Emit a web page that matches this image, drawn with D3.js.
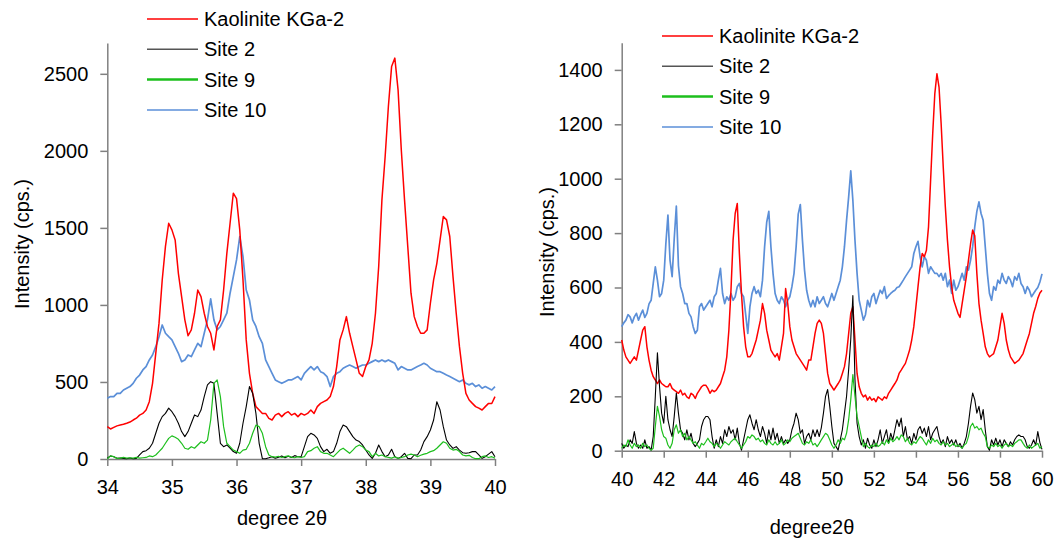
<!DOCTYPE html>
<html>
<head>
<meta charset="utf-8">
<script src="https://cdn.jsdelivr.net/npm/d3@7"></script>
<style>
  body { margin: 0; background: #fff; }
  svg { display: block; font-family: "Liberation Sans", Arial, sans-serif; }
  .axis path, .axis line { stroke: #808080; stroke-width: 1.5; }
  .axis text { font-size: 20px; fill: #000; font-family: "Liberation Sans", Arial, sans-serif; }
  .label { font-size: 20px; fill: #000; }
</style>
</head>
<body>
<svg width="1058" height="542"></svg>
<script>
const seriesNames = ['Kaolinite KGa-2', 'Site 2', 'Site 9', 'Site 10'];

// left panel: 34.00 .. 40.00 degree 2θ, every 0.05
const leftStart = 34;
const leftStep = 0.05;
const leftTicksX = [34, 35, 36, 37, 38, 39, 40];
const leftTicksY = [0, 500, 1000, 1500, 2000, 2500];
const leftKaolinite = [
  210, 195, 205, 215, 220, 225, 232, 240, 253, 265,
  285, 296, 318, 372, 491, 686, 880, 1162, 1380, 1530,
  1487, 1422, 1205, 1054, 903, 800, 838, 946, 1097, 1054,
  946, 860, 816, 708, 860, 903, 1097, 1335, 1530, 1725,
  1690, 1487, 1162, 773, 556, 426, 340, 318, 296, 296,
  264, 253, 285, 296, 275, 296, 307, 285, 296, 275,
  296, 285, 296, 318, 296, 340, 361, 372, 383, 405,
  470, 600, 773, 838, 924, 816, 729, 643, 556, 535,
  600, 643, 751, 946, 1249, 1682, 1963, 2288, 2548, 2602,
  2396, 2006, 1682, 1379, 1076, 924, 860, 816, 816, 838,
  1011, 1162, 1270, 1422, 1574, 1552, 1444, 1184, 946, 729,
  556, 426, 383, 361, 340, 330, 318, 340, 361, 360,
  405
];
const leftSite2 = [
  5, 20, 15, 5, 6, 4, 2, 6, 2, 4,
  26, 48, 54, 70, 102, 167, 232, 275, 296, 330,
  307, 275, 232, 178, 145, 178, 232, 286, 275, 318,
  405, 481, 502, 491, 296, 102, 80, 91, 70, 48,
  37, 102, 232, 340, 470, 426, 296, 102, 2, 2,
  8, 15, 5, 12, 20, 8, 18, 10, 22, 15,
  15, 80, 145, 167, 156, 134, 80, 48, 63, 37,
  48, 102, 178, 221, 210, 178, 145, 123, 113, 91,
  58, 26, 4, 37, 91, 48, 15, 26, 63, 15,
  4, 15, 37, 4, 2, 26, 26, 58, 113, 145,
  188, 253, 372, 318, 210, 123, 91, 69, 80, 58,
  41, 37, 41, 48, 48, 26, 4, 15, 32, 48,
  15
];
const leftSite9 = [
  2, 20, 15, 4, 6, 10, 6, 8, 6, 10,
  6, 8, 10, 20, 15, 26, 48, 70, 102, 134,
  150, 141, 128, 102, 70, 63, 80, 70, 91, 112,
  102, 123, 253, 491, 513, 405, 210, 102, 80, 58,
  48, 37, 58, 63, 102, 167, 220, 210, 167, 80,
  26, 15, 12, 18, 10, 15, 20, 12, 8, 15,
  10, 15, 48, 54, 70, 80, 48, 37, 37, 26,
  15, 37, 58, 70, 54, 37, 58, 80, 91, 80,
  58, 48, 15, 37, 20, 26, 15, 10, 6, 15,
  4, 10, 15, 26, 32, 26, 15, 24, 32, 37,
  48, 54, 70, 91, 112, 102, 70, 58, 63, 48,
  26, 20, 24, 10, 2, 2, 15, 20, 10, 15,
  6
];
const leftSite10 = [
  394, 405, 405, 426, 426, 448, 459, 470, 491, 524,
  545, 578, 600, 643, 675, 729, 794, 870, 816, 794,
  773, 729, 686, 632, 643, 675, 665, 708, 751, 729,
  816, 903, 1040, 903, 838, 860, 903, 946, 1076, 1184,
  1292, 1444, 1314, 1097, 1032, 903, 860, 794, 751, 643,
  600, 556, 513, 502, 491, 502, 513, 513, 524, 535,
  513, 556, 578, 600, 578, 600, 567, 556, 535, 470,
  535, 556, 567, 589, 600, 610, 600, 589, 600, 610,
  610, 621, 632, 643, 632, 643, 632, 643, 632, 621,
  578, 600, 589, 578, 578, 589, 600, 610, 621, 610,
  589, 578, 567, 567, 556, 545, 535, 524, 513, 502,
  513, 491, 481, 491, 470, 481, 459, 470, 459, 448,
  470
];

// right panel: 40.0 .. 60.0 degree 2θ, every 0.1
const rightStart = 40;
const rightStep = 0.1;
const rightTicksX = [40, 42, 44, 46, 48, 50, 52, 54, 56, 58, 60];
const rightTicksY = [0, 200, 400, 600, 800, 1000, 1200, 1400];
const rightKaolinite = [
  407, 370, 345, 333, 321, 333, 345, 333, 370, 407,
  443, 456, 382, 333, 296, 272, 260, 247, 260, 247,
  241, 235, 235, 247, 229, 223, 217, 211, 223, 205,
  211, 198, 192, 211, 205, 192, 211, 223, 235, 241,
  241, 229, 211, 223, 217, 223, 235, 247, 272, 296,
  345, 443, 590, 774, 872, 909, 725, 578, 456, 382,
  345, 345, 357, 382, 407, 443, 480, 541, 505, 443,
  407, 370, 357, 345, 357, 333, 382, 431, 596, 541,
  456, 407, 382, 357, 345, 333, 321, 309, 296, 333,
  333, 382, 431, 468, 480, 468, 431, 357, 284, 247,
  235, 223, 235, 247, 260, 284, 309, 357, 431, 505,
  529, 407, 284, 235, 211, 198, 205, 186, 198, 186,
  192, 180, 198, 192, 186, 198, 192, 211, 223, 235,
  247, 260, 284, 296, 309, 321, 345, 370, 407, 456,
  529, 603, 676, 725, 713, 737, 823, 995, 1166, 1313,
  1386, 1337, 1203, 1044, 897, 774, 676, 603, 553, 529,
  505, 490, 541, 590, 640, 700, 760, 811, 790, 652,
  541, 480, 431, 382, 357, 345, 351, 357, 382, 407,
  456, 505, 468, 407, 370, 345, 333, 321, 327, 333,
  345, 357, 382, 407, 431, 468, 505, 530, 560, 580,
  590
];
const rightSite2 = [
  27, 9, 21, 15, 40, 27, 70, 27, 9, 21,
  9, 40, 9, 15, 2, 52, 200, 360, 237, 138,
  101, 200, 114, 77, 52, 126, 212, 138, 77, 64,
  40, 77, 40, 64, 27, 15, 27, 40, 89, 114,
  126, 126, 114, 52, 9, 40, 15, 52, 27, 77,
  52, 89, 64, 77, 40, 83, 27, 2, 40, 77,
  114, 132, 101, 77, 114, 77, 52, 89, 64, 27,
  77, 40, 83, 40, 64, 27, 52, 27, 40, 27,
  40, 77, 101, 138, 114, 64, 77, 27, 52, 64,
  40, 77, 52, 77, 52, 85, 138, 200, 225, 163,
  89, 27, 15, 2, 40, 77, 138, 200, 299, 410,
  570, 262, 101, 52, 21, 40, 9, 46, 21, 9,
  40, 15, 40, 77, 27, 52, 77, 27, 64, 40,
  77, 114, 89, 120, 52, 89, 40, 52, 27, 64,
  40, 77, 89, 64, 83, 52, 89, 40, 64, 77,
  89, 52, 27, 40, 15, 52, 27, 40, 21, 40,
  15, 27, 9, 27, 52, 101, 163, 212, 188, 138,
  163, 114, 151, 77, 15, 2, 40, 21, 46, 21,
  40, 15, 40, 27, 15, 33, 21, 40, 52, 58,
  52, 52, 40, 15, 9, 21, 40, 20, 70, 30,
  5
];
const rightSite9 = [
  9, 21, 15, 40, 21, 9, 27, 15, 21, 9,
  27, 15, 21, 9, 2, 9, 89, 163, 126, 77,
  52, 46, 21, 9, 27, 77, 95, 64, 77, 52,
  64, 40, 52, 40, 27, 33, 21, 9, 27, 21,
  33, 46, 33, 27, 15, 27, 21, 9, 21, 33,
  27, 21, 33, 40, 46, 33, 21, 9, 21, 33,
  52, 46, 58, 52, 40, 46, 33, 40, 27, 21,
  40, 27, 21, 33, 21, 27, 40, 21, 27, 40,
  33, 46, 52, 58, 64, 46, 27, 21, 33, 27,
  40, 21, 27, 15, 27, 40, 52, 64, 58, 40,
  21, 9, 21, 40, 27, 46, 40, 64, 114, 188,
  280, 200, 126, 89, 52, 15, 27, 15, 9, 21,
  15, 27, 15, 21, 33, 21, 40, 27, 46, 33,
  40, 52, 40, 58, 52, 33, 46, 27, 21, 33,
  27, 40, 52, 46, 33, 21, 40, 27, 46, 33,
  40, 27, 21, 33, 21, 27, 15, 21, 27, 15,
  21, 15, 9, 21, 27, 52, 89, 101, 83, 89,
  77, 83, 64, 52, 15, 9, 21, 15, 27, 15,
  21, 9, 21, 27, 15, 21, 15, 27, 33, 40,
  40, 27, 15, 9, 21, 9, 15, 21, 27, 9,
  15
];
const rightSite10 = [
  456, 470, 480, 500, 492, 470, 492, 505, 480, 500,
  517, 490, 505, 540, 553, 615, 676, 627, 566, 578,
  627, 760, 866, 700, 640, 780, 899, 680, 603, 578,
  541, 541, 505, 492, 456, 431, 443, 529, 541, 517,
  529, 541, 553, 529, 566, 578, 627, 670, 578, 541,
  566, 553, 578, 553, 566, 603, 615, 578, 566, 500,
  431, 529, 578, 603, 578, 590, 566, 627, 750, 840,
  880, 750, 652, 578, 553, 541, 566, 553, 529, 553,
  566, 603, 652, 750, 870, 905, 774, 664, 590, 553,
  529, 553, 529, 566, 541, 553, 566, 541, 529, 553,
  578, 553, 578, 603, 627, 676, 750, 847, 933, 1029,
  921, 774, 652, 553, 517, 480, 500, 553, 529, 566,
  578, 541, 566, 590, 578, 603, 560, 570, 578, 585,
  590, 600, 603, 615, 627, 640, 652, 664, 676, 725,
  750, 770, 713, 676, 713, 700, 652, 676, 664, 652,
  652, 640, 652, 627, 652, 603, 627, 578, 627, 590,
  603, 627, 652, 627, 676, 664, 700, 750, 823, 880,
  915, 872, 847, 750, 652, 578, 553, 603, 590, 627,
  615, 652, 627, 615, 640, 627, 603, 640, 627, 652,
  615, 603, 578, 603, 590, 566, 578, 590, 600, 620,
  650
];

const colors = ['#ff0000', '#000000', '#1dbf1d', '#5b8fd8'];
const widths = [1.5, 1.1, 1.2, 1.7];
const drawOrder = [3, 0, 1, 2];

const svg = d3.select('svg');

function drawPanel(p) {
  const x = d3.scaleLinear().domain(p.xDomain).range(p.xRange);
  const y = d3.scaleLinear().domain(p.yDomain).range(p.yRange);

  svg.append('g')
    .attr('class', 'axis')
    .attr('transform', `translate(0,${p.yRange[0]})`)
    .call(d3.axisBottom(x).tickValues(p.ticksX).tickFormat(d3.format('d'))
      .tickSize(7).tickSizeOuter(0).tickPadding(14));
  svg.append('g')
    .attr('class', 'axis')
    .attr('transform', `translate(${p.xRange[0]},0)`)
    .call(d3.axisLeft(y).tickValues(p.ticksY).tickFormat(d3.format('d'))
      .tickSize(7).tickSizeOuter(0).tickPadding(12));

  drawOrder.forEach(i => {
    const line = d3.line()
      .x((d, j) => x(p.start + j * p.step))
      .y(d => y(d));
    svg.append('path')
      .datum(p.series[i])
      .attr('fill', 'none')
      .attr('stroke', colors[i])
      .attr('stroke-width', widths[i])
      .attr('stroke-linejoin', 'round')
      .attr('d', line);
  });

  const legend = svg.append('g').attr('transform', `translate(${p.legendX},${p.legendY})`);
  seriesNames.forEach((name, i) => {
    const row = legend.append('g').attr('transform', `translate(0,${i * 30.3})`);
    row.append('line')
      .attr('x1', 0).attr('x2', 51)
      .attr('stroke', i === 1 ? '#555' : colors[i])
      .attr('stroke-width', i === 2 ? 2.5 : 1.5);
    row.append('text')
      .attr('class', 'label')
      .attr('x', 57)
      .attr('dy', '0.35em')
      .text(name);
  });

  svg.append('text')
    .attr('class', 'label')
    .attr('x', p.titleX).attr('y', p.titleY)
    .attr('text-anchor', 'middle')
    .text(p.title);

  svg.append('text')
    .attr('class', 'label')
    .attr('transform', `translate(${p.yLabelX},${p.yLabelY}) rotate(-90)`)
    .attr('text-anchor', 'middle')
    .attr('dy', '0.35em')
    .text('Intensity (cps.)');
}

drawPanel({
  xDomain: [34, 40], xRange: [107.3, 495],
  yDomain: [0, 2700], yRange: [459, 43],
  ticksX: leftTicksX, ticksY: leftTicksY,
  start: leftStart, step: leftStep,
  series: [leftKaolinite, leftSite2, leftSite9, leftSite10],
  legendX: 147, legendY: 19,
  title: 'degree 2θ', titleX: 282, titleY: 525,
  yLabelX: 22, yLabelY: 244
});

drawPanel({
  xDomain: [40, 60], xRange: [621.7, 1042],
  yDomain: [0, 1500], yRange: [450.7, 42.7],
  ticksX: rightTicksX, ticksY: rightTicksY,
  start: rightStart, step: rightStep,
  series: [rightKaolinite, rightSite2, rightSite9, rightSite10],
  legendX: 662, legendY: 36,
  title: 'degree2θ', titleX: 812, titleY: 534,
  yLabelX: 547, yLabelY: 252
});
</script>
</body>
</html>
